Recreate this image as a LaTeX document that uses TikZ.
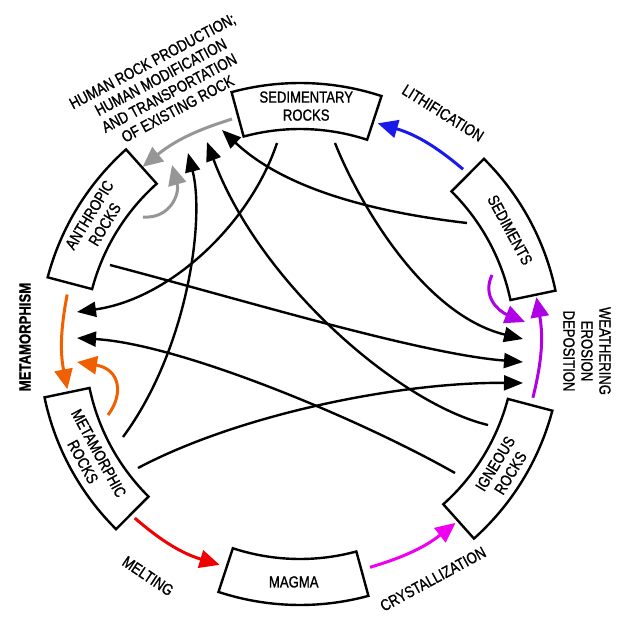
\documentclass[tikz,border=0pt]{standalone}
\usepackage{fontspec}
\setmainfont{Liberation Sans}[FakeBold=1.2]
\usetikzlibrary{arrows.meta}
\definecolor{lithblue}{RGB}{25,25,235}
\definecolor{weatherpurple}{RGB}{175,0,230}
\definecolor{crystmagenta}{RGB}{240,0,240}
\definecolor{meltred}{RGB}{240,0,0}
\definecolor{metaorange}{RGB}{240,95,0}
\definecolor{humangray}{RGB}{150,150,150}
\tikzset{%
  rock box/.style={
    draw=black,
    line width=2.4pt,
    fill=white
  },
  rock label/.style={
    rotate=#1,
    xscale=0.82,
    align=center,
    inner sep=0pt,
    font=\fontsize{16}{18}\selectfont
  },
  rock label/.default=0,
  process/.style={
    rotate=#1,
    xscale=0.82,
    align=center,
    inner sep=0pt,
    font=\fontsize{16}{18}\selectfont
  },
  process/.default=0,
}
\newcommand\rockbox[1]{%
  \draw[rock box] ({#1-16.7}:215pt) arc[start angle={#1-16.7}, end angle={#1+16.7}, radius=215pt]
    -- ({#1+16.7}:261pt) arc[start angle={#1+16.7}, end angle={#1-16.7}, radius=261pt] -- cycle;}

\begin{document}
\begin{tikzpicture}[x=1pt,y=1pt,>={Triangle[length=19pt,width=15pt]}]
        \tikzstyle{link}=[line width=2.4pt,->]
        \tikzstyle{turn}=[line width=3pt,-{Triangle[length=20pt,width=18pt]}]
        \useasboundingbox (-300,-275) rectangle (322,344);

        % the six boxes
        \foreach \a in {88.5,28.5,-31.5,-91.5,-151.5,148.5} {\rockbox{\a}}
        \node[rock label] (sedrocks) at (88.5:238pt) {SEDIMENTARY\\ROCKS};
        \node[rock label=-61.5] (sediments) at (28.5:239pt) {SEDIMENTS};
        \node[rock label=58.5] (igneous) at (-31.5:238pt) {IGNEOUS\\ROCKS};
        \node[rock label] (magma) at (-91.5:238pt) {MAGMA};
        \node[rock label=-61.5] (metarocks) at (-151.5:238pt) {METAMORPHIC\\ROCKS};
        \node[rock label=58.5] (anthrocks) at (148.5:238pt) {ANTHROPIC\\ROCKS};

        % process names
        \node[process=28] (human) at (-135,259) {HUMAN ROCK PRODUCTION;\\HUMAN MODIFICATION\\AND TRANSPORTATION\\OF EXISTING ROCK};
        \node[process=-32] (lith) at (143,231) {LITHIFICATION};
        \node[process=-90] (weather) at (287,-7) {WEATHERING\\EROSION\\DEPOSITION};
        \node[process=28.5] (cryst) at (133,-235) {CRYSTALLIZATION};
        \node[process=-34] (melt) at (-152,-232) {MELTING};
        \node[process=90,font=\fontsize{16}{18}\selectfont\bfseries] (metam) at (-275,7) {METAMORPHISM};

        % ends of the black links
        \coordinate (sr in1) at (-112,191);
        \coordinate (sr in2) at (-93,202);
        \coordinate (sr in3) at (-78,214);
        \coordinate (sr out1) at (-23,201);
        \coordinate (sr out2) at (35,201);
        \coordinate (we in1) at (223,5);
        \coordinate (we in2) at (223,-18);
        \coordinate (we in3) at (223,-39);
        \coordinate (mm in1) at (-223,32);
        \coordinate (mm in2) at (-223,6);
        \coordinate (mr out1) at (-177,-93);
        \coordinate (mr out2) at (-162,-124);
        \coordinate (ig out1) at (188,-81);
        \coordinate (ig out2) at (155,-129);
        \coordinate (sd out) at (167,121);
        \coordinate (ar out) at (-190,79);

        \draw[link] (mr out1) .. controls (-112,-5) and (-95,125) .. (sr in1);
        \draw[link] (ig out1) .. controls (100,-60) and (-40,60) .. (sr in2);
        \draw[link] (sd out) .. controls (90,130) and (-10,150) .. (sr in3);
        \draw[link] (sr out2) .. controls (55,150) and (120,30) .. (we in1);
        \draw[link] (sr out1) .. controls (-50,120) and (-130,45) .. (mm in1);
        \draw[link] (ar out) .. controls (-60,45) and (120,-10) .. (we in2);
        \draw[link] (ig out2) .. controls (60,-75) and (-120,0) .. (mm in2);
        \draw[link] (mr out2) .. controls (-60,-70) and (100,-38) .. (we in3);

        % coloured steps of the cycle
        \coordinate (lith a) at (47:239pt);
        \coordinate (lith b) at (70.6:234pt);
        \coordinate (weather a) at (-13:239pt);
        \coordinate (weather b) at (11.2:241pt);
        \coordinate (cryst a) at (-72.6:234pt);
        \coordinate (cryst b) at (-49:237pt);
        \coordinate (melt a) at (-133.5:240pt);
        \coordinate (melt b) at (-110:235pt);
        \coordinate (metam a) at (168:238pt);
        \coordinate (metam b) at (191:237pt);
        \coordinate (human a) at (106.8:235pt);
        \coordinate (human b) at (131.6:237pt);

        \draw[turn,lithblue] (lith a) to[bend right=12] (lith b);
        \draw[turn,weatherpurple] (weather a) to[bend right=12] (weather b);
        \draw[turn,crystmagenta] (cryst a) to[bend right=11] (cryst b);
        \draw[turn,meltred] (melt a) to[bend right=12] (melt b);
        \draw[turn,metaorange] (metam a) to[bend right=11] (metam b);
        \draw[turn,humangray] (human a) to[bend right=11] (human b);

        % hooks back into the same step
        \coordinate (wh a) at (192,69);
        \coordinate (wh b) at (225,22);
        \coordinate (mh a) at (-192,-71);
        \coordinate (mh b) at (-223,-18);
        \coordinate (hh a) at (-157,127);
        \coordinate (hh b) at (-128,179);
        \draw[turn,weatherpurple] (wh a) .. controls (182,48) and (198,33) .. (wh b);
        \draw[turn,metaorange] (mh a) .. controls (-176,-50) and (-180,-25) .. (mh b);
        \draw[turn,humangray] (hh a) .. controls (-130,125) and (-120,150) .. (hh b);
\end{tikzpicture}
\end{document}
